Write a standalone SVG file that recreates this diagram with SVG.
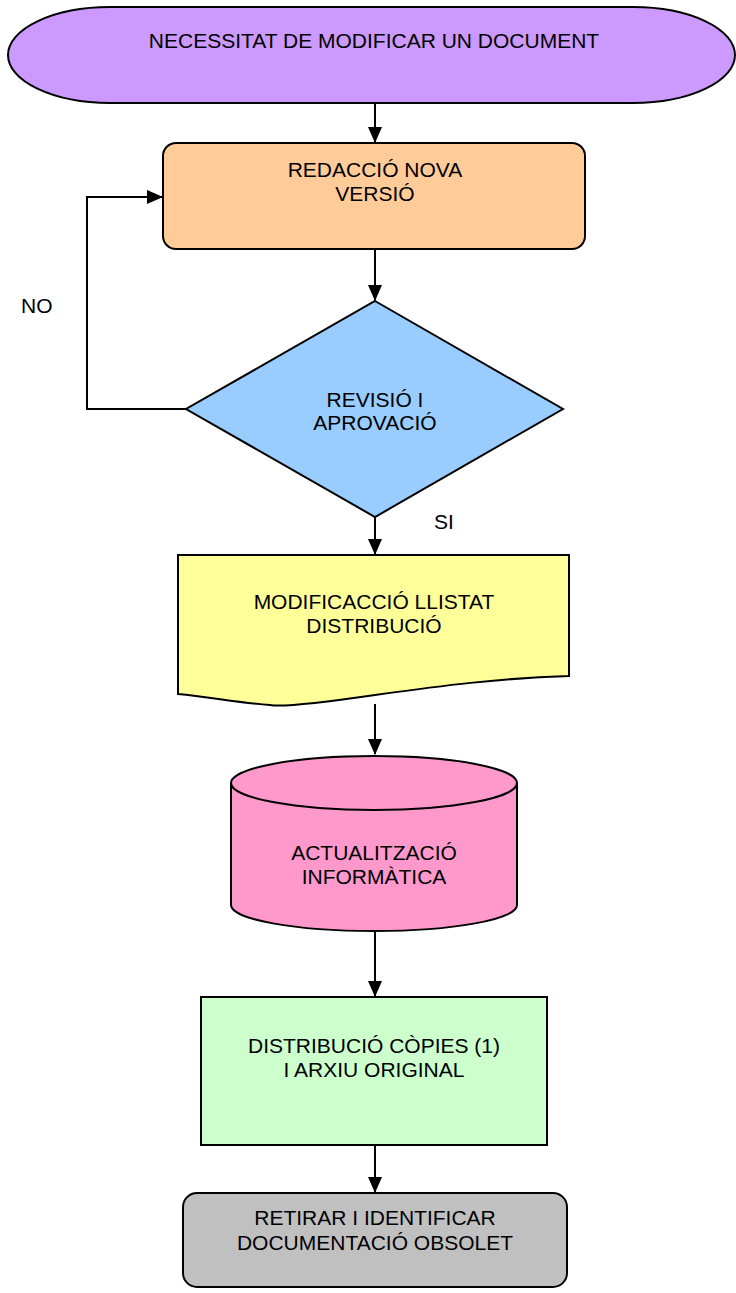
<svg xmlns="http://www.w3.org/2000/svg" width="736" height="1293" viewBox="0 0 736 1293">
  <style>
    .shape { stroke: #000; stroke-width: 2; }
    .edge { fill: none; stroke: #000; stroke-width: 2; }
    text { font-family: "Liberation Sans", Arial, sans-serif; font-size: 21px; fill: #000; text-anchor: middle; }
    .lbl { text-anchor: start; }
  </style>
  <defs>
    <marker id="arrow" markerUnits="userSpaceOnUse" markerWidth="16" markerHeight="16" viewBox="0 0 16 16" refX="15" refY="8" orient="auto">
      <path d="M0,1 L16,8 L0,15 Z" fill="#000"/>
    </marker>
  </defs>
  <rect width="736" height="1293" fill="#fff"/>

  <!-- connectors -->
  <g id="connectors">
    <path class="edge" d="M375,103 V142" marker-end="url(#arrow)"/>
    <path class="edge" d="M375,249 V300" marker-end="url(#arrow)"/>
    <path class="edge" d="M186,409 H87 V197 H162" marker-end="url(#arrow)"/>
    <path class="edge" d="M375,517 V554" marker-end="url(#arrow)"/>
    <path class="edge" d="M375,704 V754" marker-end="url(#arrow)"/>
    <path class="edge" d="M375,931 V996" marker-end="url(#arrow)"/>
    <path class="edge" d="M375,1145 V1192" marker-end="url(#arrow)"/>
    <text class="lbl" x="21" y="313">NO</text>
    <text class="lbl" x="434" y="529">SI</text>
  </g>

  <!-- start terminator -->
  <g id="start">
    <path class="shape" fill="#CC99FF" d="M110,7 H633 A102,48 0 0 1 633,103 H110 A102,48 0 0 1 110,7 Z"/>
    <text x="374" y="48">NECESSITAT DE MODIFICAR UN DOCUMENT</text>
  </g>

  <!-- draft new version -->
  <g id="draft">
    <rect class="shape" fill="#FFCC99" x="163" y="143" width="422" height="106" rx="13" ry="13"/>
    <text x="375" y="177">REDACCIÓ NOVA</text>
    <text x="375" y="201">VERSIÓ</text>
  </g>

  <!-- review decision -->
  <g id="review">
    <path class="shape" fill="#99CCFF" d="M375,301 L563,409 L375,517 L186,409 Z"/>
    <text x="375" y="407">REVISIÓ I</text>
    <text x="375" y="430">APROVACIÓ</text>
  </g>

  <!-- distribution list document -->
  <g id="list">
    <path class="shape" fill="#FFFF99" d="M178,555 H569 V676 C500,678 440,686 375,695 C320,703 280,707 270,705 C240,703 210,697 178,694 Z"/>
    <text x="374" y="609">MODIFICACCIÓ LLISTAT</text>
    <text x="374" y="633">DISTRIBUCIÓ</text>
  </g>

  <!-- database update -->
  <g id="database">
    <path class="shape" fill="#FF99CC" d="M231,783 A143,27 0 0 1 517,783 V905 A143,26 0 0 1 231,905 Z"/>
    <path class="edge" d="M231,783 A143,27 0 0 0 517,783"/>
    <text x="374" y="860">ACTUALITZACIÓ</text>
    <text x="374" y="884">INFORMÀTICA</text>
  </g>

  <!-- copies distribution -->
  <g id="copies">
    <rect class="shape" fill="#CCFFCC" x="201" y="997" width="346" height="148"/>
    <text x="374" y="1053">DISTRIBUCIÓ CÒPIES (1)</text>
    <text x="374" y="1077">I ARXIU ORIGINAL</text>
  </g>

  <!-- withdraw obsolete -->
  <g id="withdraw">
    <rect class="shape" fill="#C0C0C0" x="183" y="1193" width="384" height="94" rx="14" ry="14"/>
    <text x="375" y="1225">RETIRAR I IDENTIFICAR</text>
    <text x="375" y="1250">DOCUMENTACIÓ OBSOLET</text>
  </g>
</svg>
